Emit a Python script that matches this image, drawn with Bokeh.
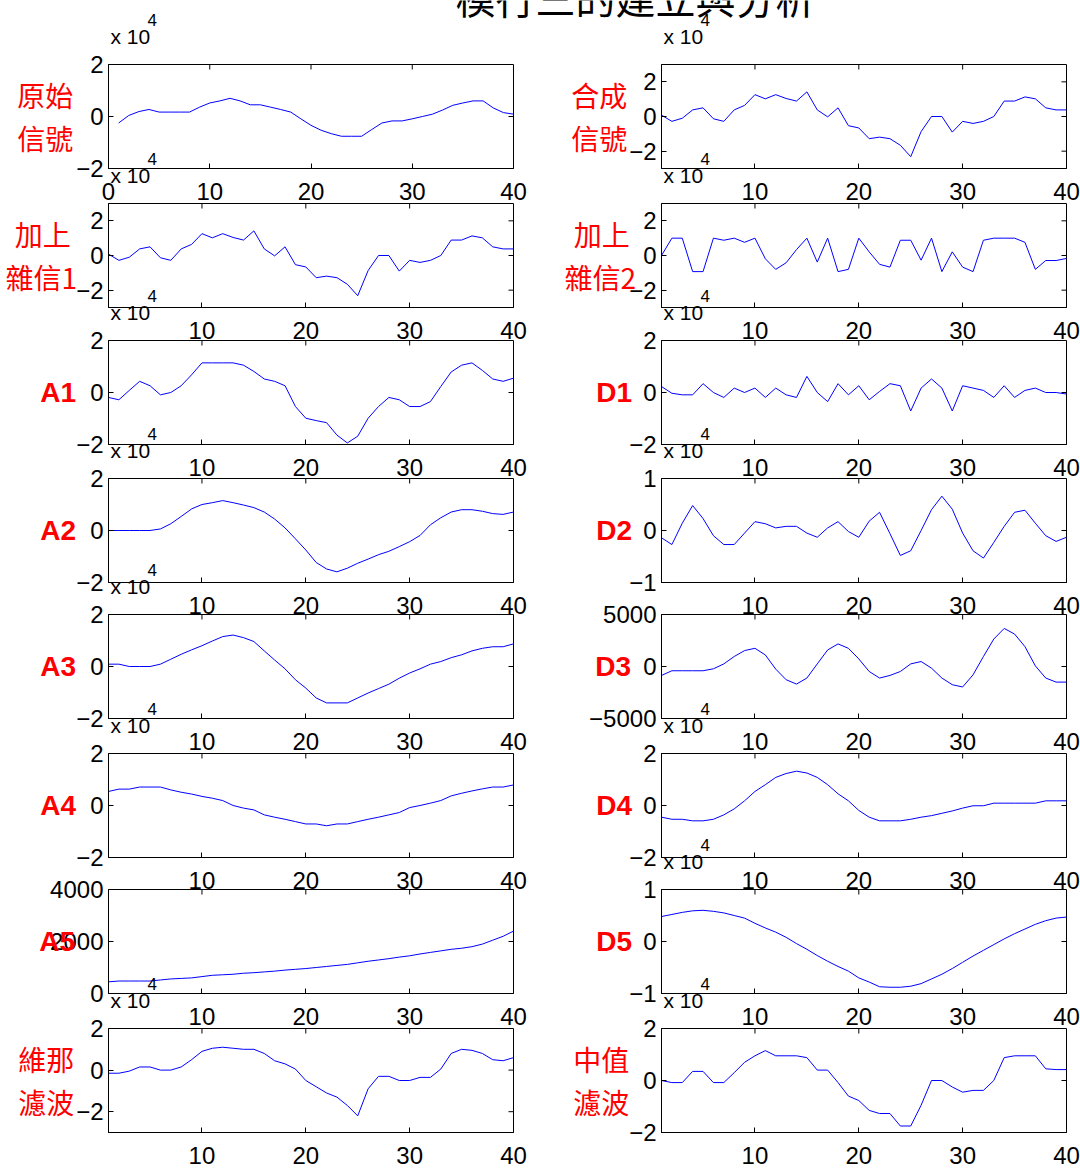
from bokeh.plotting import figure
from bokeh.models import Range1d, LinearAxis, FixedTicker, Title
from bokeh.layouts import column, row
from bokeh.embed import file_html
from bokeh.resources import INLINE
from bokeh.core.properties import value

# ---------------- data ----------------
X = list(range(1, 41))

title_text = "模行三的建立與分析"

original = [-0.25, 0.04, 0.19, 0.27, 0.17, 0.17, 0.17, 0.17, 0.36, 0.52,
            0.60, 0.70, 0.60, 0.45, 0.45, 0.36, 0.27, 0.17, -0.09, -0.34,
            -0.53, -0.66, -0.76, -0.76, -0.76, -0.50, -0.25, -0.17, -0.17, -0.09,
            0.00, 0.09, 0.25, 0.43, 0.52, 0.60, 0.60, 0.33, 0.15, 0.09]

combined = [0.08, -0.28, -0.10, 0.38, 0.50, -0.13, -0.28, 0.38, 0.64, 1.26,
            1.02, 1.26, 1.04, 0.89, 1.42, 0.38, -0.02, 0.50, -0.53, -0.66,
            -1.28, -1.19, -1.28, -1.66, -2.32, -0.87, 0.00, 0.00, -0.90, -0.28,
            -0.40, -0.28, 0.00, 0.89, 0.89, 1.13, 1.02, 0.50, 0.38, 0.38]

noisy1 = [0.08, -0.28, -0.10, 0.38, 0.50, -0.13, -0.28, 0.38, 0.64, 1.26,
          1.02, 1.26, 1.04, 0.89, 1.42, 0.38, -0.02, 0.50, -0.53, -0.66,
          -1.28, -1.19, -1.28, -1.66, -2.32, -0.87, 0.00, 0.00, -0.90, -0.28,
          -0.40, -0.28, 0.00, 0.89, 0.89, 1.13, 1.02, 0.50, 0.38, 0.38]

noisy2 = [0.00, 1.00, 1.00, -0.93, -0.93, 1.00, 0.88, 1.00, 0.76, 1.00,
          -0.19, -0.80, -0.42, 0.34, 1.00, -0.38, 1.00, -0.93, -0.80, 1.00,
          0.21, -0.51, -0.67, 0.88, 0.88, -0.27, 1.00, -0.93, 0.21, -0.67,
          -0.93, 0.88, 1.00, 1.00, 1.00, 0.76, -0.80, -0.29, -0.29, -0.17]

a1 = [-0.19, -0.28, 0.08, 0.43, 0.26, -0.09, 0.00, 0.26, 0.68, 1.14,
      1.14, 1.14, 1.14, 1.05, 0.81, 0.52, 0.43, 0.26, -0.54, -0.99,
      -1.08, -1.16, -1.64, -1.94, -1.68, -0.99, -0.54, -0.19, -0.28, -0.54,
      -0.54, -0.35, 0.23, 0.79, 1.05, 1.14, 0.85, 0.52, 0.43, 0.55]

d1 = [0.23, -0.03, -0.09, -0.09, 0.34, 0.00, -0.19, 0.17, 0.00, 0.17,
      -0.19, 0.17, -0.09, -0.19, 0.62, 0.00, -0.35, 0.34, -0.09, 0.26,
      -0.28, 0.04, 0.34, 0.26, -0.71, 0.17, 0.52, 0.17, -0.71, 0.26,
      0.17, 0.08, -0.19, 0.26, -0.19, 0.08, 0.17, 0.00, 0.00, -0.06]

a2 = [0.00, 0.00, 0.00, 0.00, 0.00, 0.06, 0.26, 0.54, 0.83, 1.00,
      1.07, 1.15, 1.07, 0.98, 0.88, 0.71, 0.44, 0.10, -0.32, -0.75,
      -1.23, -1.48, -1.59, -1.45, -1.26, -1.10, -0.93, -0.80, -0.62, -0.43,
      -0.19, 0.22, 0.49, 0.71, 0.80, 0.80, 0.74, 0.65, 0.62, 0.71]

d2 = [-0.14, -0.27, 0.14, 0.48, 0.23, -0.10, -0.27, -0.27, -0.05, 0.17,
      0.13, 0.05, 0.08, 0.08, -0.05, -0.13, 0.05, 0.17, -0.02, -0.13,
      0.18, 0.35, -0.06, -0.48, -0.39, 0.00, 0.40, 0.66, 0.41, -0.05,
      -0.39, -0.53, -0.23, 0.08, 0.35, 0.39, 0.14, -0.10, -0.21, -0.13]

a3 = [0.09, 0.09, 0.00, 0.00, 0.00, 0.09, 0.28, 0.47, 0.64, 0.80,
      0.98, 1.15, 1.21, 1.11, 0.96, 0.60, 0.25, -0.09, -0.51, -0.83,
      -1.21, -1.40, -1.40, -1.40, -1.21, -1.02, -0.85, -0.68, -0.45, -0.25,
      -0.09, 0.09, 0.19, 0.34, 0.45, 0.60, 0.70, 0.76, 0.76, 0.87]

d3 = [-860, -410, -410, -410, -410, -220, 250, 960, 1530, 1750,
      1110, -250, -1270, -1690, -1110, 250, 1590, 2170, 1750, 730,
      -480, -1110, -860, -480, 250, 480, -160, -1110, -1750, -1970,
      -800, 960, 2640, 3660, 3120, 1910, 60, -1110, -1500, -1500]

a4 = [0.54, 0.63, 0.63, 0.71, 0.71, 0.71, 0.60, 0.51, 0.44, 0.35,
      0.28, 0.19, 0.00, -0.10, -0.17, -0.36, -0.45, -0.53, -0.62, -0.71,
      -0.71, -0.78, -0.71, -0.71, -0.62, -0.53, -0.45, -0.36, -0.27, -0.08,
      0.00, 0.09, 0.19, 0.37, 0.47, 0.56, 0.64, 0.71, 0.71, 0.79]

d4 = [-0.45, -0.53, -0.53, -0.59, -0.59, -0.53, -0.36, -0.13, 0.18, 0.54,
      0.80, 1.08, 1.23, 1.32, 1.25, 1.08, 0.80, 0.45, 0.18, -0.19,
      -0.45, -0.59, -0.59, -0.59, -0.53, -0.45, -0.39, -0.30, -0.21, -0.10,
      -0.01, -0.01, 0.09, 0.09, 0.09, 0.09, 0.09, 0.18, 0.18, 0.18]

a5 = [450, 480, 480, 480, 480, 520, 560, 580, 600, 650,
      700, 720, 740, 780, 800, 830, 860, 900, 930, 960,
      1000, 1040, 1080, 1120, 1180, 1240, 1290, 1340, 1400, 1450,
      1520, 1580, 1640, 1700, 1740, 1800, 1900, 2050, 2200, 2400]

d5 = [0.48, 0.52, 0.56, 0.59, 0.60, 0.58, 0.55, 0.50, 0.45, 0.35,
      0.26, 0.18, 0.08, -0.04, -0.15, -0.27, -0.38, -0.48, -0.57, -0.70,
      -0.78, -0.87, -0.88, -0.88, -0.86, -0.81, -0.72, -0.63, -0.52, -0.40,
      -0.28, -0.17, -0.06, 0.05, 0.15, 0.24, 0.33, 0.40, 0.45, 0.47]

wiener = [-0.15, -0.15, -0.05, 0.15, 0.15, 0.00, 0.00, 0.15, 0.50, 0.90,
          1.05, 1.10, 1.05, 1.00, 1.00, 0.80, 0.45, 0.30, 0.05, -0.50,
          -0.80, -1.10, -1.30, -1.70, -2.20, -0.90, -0.30, -0.30, -0.50, -0.50,
          -0.35, -0.35, 0.05, 0.80, 1.00, 0.95, 0.80, 0.50, 0.45, 0.60]

median = [0.00, -0.08, -0.08, 0.35, 0.35, -0.08, -0.08, 0.30, 0.70, 0.95,
          1.15, 0.95, 0.95, 0.95, 0.88, 0.40, 0.40, -0.08, -0.60, -0.77,
          -1.15, -1.27, -1.27, -1.75, -1.75, -0.95, 0.00, 0.00, -0.25, -0.45,
          -0.38, -0.38, 0.00, 0.88, 0.95, 0.95, 0.95, 0.45, 0.42, 0.42]

x_ticks_first = [0, 10, 20, 30, 40]
x_ticks = [10, 20, 30, 40]

# ---------------- style ----------------
NUM_FONT = "Liberation Sans"
CJK_FONT = "Noto Sans CJK TC"
FRAME_TOPS = [64, 203, 340, 478, 614, 753, 889, 1028]
BT, FH, BB, BB_LAST = 64, 104, 40, 37
FW = 405


def panel(yvals, ylim, yticks, xlim, xticks, label, kind, lab_standoff, expo, side, bb=BB):
    if side == "L":
        width, bl, br = 545, 108, 32
    else:
        width, bl, br = 535, 116, 14
    p = figure(width=width, height=BT + FH + bb,
               x_range=Range1d(*xlim), y_range=Range1d(*ylim),
               x_axis_type=None, y_axis_type=None,
               output_backend="svg", toolbar_location=None,
               min_border_left=bl, min_border_right=br,
               min_border_top=BT, min_border_bottom=bb)
    p.background_fill_color = None
    p.border_fill_color = None
    p.outline_line_color = "black"

    xa = LinearAxis(ticker=FixedTicker(ticks=xticks))
    ya = LinearAxis(ticker=FixedTicker(ticks=yticks))
    for ax in (xa, ya):
        ax.major_tick_in = 5
        ax.major_tick_out = 0
        ax.minor_tick_in = 0
        ax.minor_tick_out = 0
        ax.axis_line_color = "black"
        ax.major_tick_line_color = "black"
        ax.major_label_text_font = NUM_FONT
        ax.major_label_text_font_size = "24px"
        ax.major_label_text_color = "black"
    xa.major_label_standoff = 14
    ya.major_label_standoff = 5

    # red row label, written horizontally left of the tick labels
    ya.axis_label = label
    ya.axis_label_orientation = "horizontal"
    ya.axis_label_text_color = "#ff0000"
    ya.axis_label_standoff = lab_standoff
    ya.axis_label_text_line_height = 1.08
    if kind == "cjk":
        ya.axis_label_text_font = CJK_FONT
        ya.axis_label_text_font_size = "28px"
        ya.axis_label_text_font_style = "normal"
    else:
        ya.axis_label_text_font = NUM_FONT
        ya.axis_label_text_font_size = "28px"
        ya.axis_label_text_font_style = "bold"
    p.add_layout(xa, "below")
    p.add_layout(ya, "left")

    # inward ticks on the top and right edges (box like the reference)
    tx = [t for t in xticks if xlim[0] < t < xlim[1]]
    ty = [t for t in yticks if ylim[0] < t < ylim[1]]
    dy_t = 5.0 * (ylim[1] - ylim[0]) / FH
    dx_t = 5.0 * (xlim[1] - xlim[0]) / FW
    p.segment(x0=tx, y0=[ylim[1]] * len(tx), x1=tx, y1=[ylim[1] - dy_t] * len(tx),
              line_color="black", line_width=1)
    p.segment(x0=[xlim[1]] * len(ty), y0=ty, x1=[xlim[1] - dx_t] * len(ty), y1=ty,
              line_color="black", line_width=1)

    p.line(X, yvals, line_color="#0000ff", line_width=1)

    if expo:
        p.add_layout(Title(text="x 10", align="left", offset=2, standoff=34,
                           text_font=NUM_FONT, text_font_size="21px",
                           text_font_style="normal", text_color="black"), "above")
        p.add_layout(Title(text="4", align="left", offset=39, standoff=-40,
                           text_font=NUM_FONT, text_font_size="17px",
                           text_font_style="normal", text_color="black"), "above")
    return p


panels = [
    (panel(original, (-2, 2), [-2, 0, 2], (0, 40), x_ticks_first, "原始\n信號", "cjk", 0, True, "L"),
     panel(combined, (-3, 3), [-2, 0, 2], (1, 40), x_ticks, "合成\n信號", "cjk", -1, True, "R")),
    (panel(noisy1, (-3, 3), [-2, 0, 2], (1, 40), x_ticks, " 加上\n雜信1", "cjk", -4, True, "L"),
     panel(noisy2, (-3, 3), [-2, 0, 2], (1, 40), x_ticks, " 加上\n雜信2", "cjk", -10, True, "R")),
    (panel(a1, (-2, 2), [-2, 0, 2], (1, 40), x_ticks, "A1", "lat", -3, True, "L"),
     panel(d1, (-2, 2), [-2, 0, 2], (1, 40), x_ticks, "D1", "lat", -6, True, "R")),
    (panel(a2, (-2, 2), [-2, 0, 2], (1, 40), x_ticks, "A2", "lat", -3, True, "L"),
     panel(d2, (-1, 1), [-1, 0, 1], (1, 40), x_ticks, "D2", "lat", -6, True, "R")),
    (panel(a3, (-2, 2), [-2, 0, 2], (1, 40), x_ticks, "A3", "lat", -3, True, "L"),
     panel(d3, (-5000, 5000), [-5000, 0, 5000], (1, 40), x_ticks, "D3", "lat", -45, False, "R")),
    (panel(a4, (-2, 2), [-2, 0, 2], (1, 40), x_ticks, "A4", "lat", -3, True, "L"),
     panel(d4, (-2, 2), [-2, 0, 2], (1, 40), x_ticks, "D4", "lat", -6, True, "R")),
    (panel(a5, (0, 4000), [0, 2000, 4000], (1, 40), x_ticks, "A5", "lat", -28, False, "L"),
     panel(d5, (-1, 1), [-1, 0, 1], (1, 40), x_ticks, "D5", "lat", -6, True, "R")),
    (panel(wiener, (-3, 2), [-2, 0, 2], (1, 40), x_ticks, "維那\n濾波", "cjk", -1, True, "L", bb=BB_LAST),
     panel(median, (-2, 2), [-2, 0, 2], (1, 40), x_ticks, "中值\n濾波", "cjk", -3, True, "R", bb=BB_LAST)),
]

# title strip (text clipped at the top like the reference)
TH = 30
tp = figure(width=1080, height=TH, x_range=Range1d(0, 1080), y_range=Range1d(0, TH),
            x_axis_type=None, y_axis_type=None, output_backend="svg",
            toolbar_location=None, min_border=0)
tp.outline_line_color = None
tp.background_fill_color = None
tp.border_fill_color = None
tp.text(x=[635], y=[5], text=[title_text], text_align="center", text_baseline="bottom",
        text_font=value(CJK_FONT), text_font_size="40px", text_color="black")

rows = []
prev_bottom = TH
for i, (pl, pr) in enumerate(panels):
    top = FRAME_TOPS[i] - BT
    mt = top - prev_bottom
    rows.append(row(pl, pr, margin=(mt, 0, 0, 0)))
    prev_bottom = top + pl.height

layout = column(tp, *rows)
open("out.html", "w").write(file_html(layout, INLINE))
